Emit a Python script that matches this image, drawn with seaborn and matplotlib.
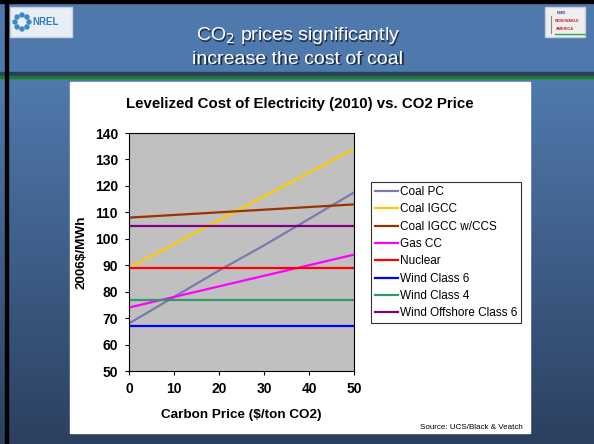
import matplotlib.pyplot as plt
import numpy as np
import pandas as pd
import seaborn as sns
from matplotlib.patches import Circle, Rectangle

carbon_price = [0, 10, 20, 30, 40, 50]
coal_pc = [68, 78, 88, 97.5, 107.5, 117.5]
coal_igcc = [89, 98, 107, 116, 125, 134]
coal_igcc_ccs = [108, 109, 110, 111, 112, 113]
gas_cc = [74, 78, 82, 86, 90, 94]
nuclear = [89, 89, 89, 89, 89, 89]
wind_class6 = [67, 67, 67, 67, 67, 67]
wind_class4 = [77, 77, 77, 77, 77, 77]
wind_offshore6 = [105, 105, 105, 105, 105, 105]

series = {
    "Coal PC": coal_pc,
    "Coal IGCC": coal_igcc,
    "Coal IGCC w/CCS": coal_igcc_ccs,
    "Gas CC": gas_cc,
    "Nuclear": nuclear,
    "Wind Class 6": wind_class6,
    "Wind Class 4": wind_class4,
    "Wind Offshore Class 6": wind_offshore6,
}
colors = ["#7a7ab0", "#ffcc00", "#993300", "#ff00ff",
          "#ff0000", "#0000ff", "#339966", "#800080"]

df = pd.concat(
    [pd.DataFrame({"price": carbon_price, "cost": v, "tech": k}) for k, v in series.items()]
)

plt.rcParams["font.family"] = ["Liberation Sans", "DejaVu Sans"]

fig = plt.figure(figsize=(5.94, 4.44), dpi=100)

# slide background
bg = fig.add_axes([0, 0, 1, 1], zorder=-10)
grad = np.linspace(0, 1, 256).reshape(-1, 1)
top = np.array([0x50, 0x7a, 0xae]) / 255
bot = np.array([0x2c, 0x40, 0x60]) / 255
img = top + (bot - top) * grad[..., None]
bg.imshow(img, extent=[0, 594, 444, 78], aspect="auto")
bg.set_xlim(0, 594)
bg.set_ylim(444, 0)
bg.axis("off")
bg.add_patch(Rectangle((0, 0), 594, 72, color="#4f79ad"))
bg.add_patch(Rectangle((0, 72), 594, 4, color="#2a3f5a"))
bg.add_patch(Rectangle((0, 76), 594, 2, color="#1f7a2a"))
bg.add_patch(Rectangle((5, 0), 2.5, 444, color="black"))
bg.add_patch(Rectangle((0, 0), 594, 3, color="black"))

# logos (rough)
bg.add_patch(Rectangle((10, 7), 62, 30, facecolor="#e8eef5", edgecolor="#c8d0da"))
for a in np.linspace(0, 2 * np.pi, 8, endpoint=False):
    bg.add_patch(Circle((22 + 7 * np.cos(a), 22 + 7 * np.sin(a)), 2, color="#3a88c8"))
bg.text(32, 22, "NREL", color="#3a78b8", fontsize=7, fontweight="bold", va="center")
bg.add_patch(Rectangle((545, 7), 40, 30, facecolor="#eeeeee", edgecolor="#c8d0da"))
bg.plot([551, 551], [16, 33], color="#888888", lw=0.8)
bg.plot([555, 585], [34, 34], color="#33aa44", lw=1)
bg.text(557, 13, "NMD", color="#3344aa", fontsize=3, fontweight="bold", va="center")
bg.text(555, 21, "RENEWABLE", color="#cc2222", fontsize=2.8, fontweight="bold", va="center")
bg.text(556, 29, "AMERICA", color="#cc2222", fontsize=2.8, fontweight="bold", va="center")

bg.add_patch(Rectangle((70, 82), 460, 351, color="white"))

for dx, col in [(1.2, "#1c2c44"), (0, "white")]:
    bg.text(298 + dx, 36 + dx, "CO$_2$ prices significantly", color=col,
            fontsize=14, ha="center", va="center")
    bg.text(298 + dx, 59 + dx, "increase the cost of coal", color=col,
            fontsize=14, ha="center", va="center")
bg.text(523, 427, "Source: UCS/Black & Veatch", fontsize=5.8, ha="right", va="center")

ax = fig.add_axes([129 / 594, 1 - 371 / 444, 225 / 594, 238 / 444])
ax.set_facecolor("#c0c0c0")
sns.lineplot(data=df, x="price", y="cost", hue="tech", palette=colors,
             linewidth=1.6, ax=ax, legend=True)

ax.set_xlim(0, 50)
ax.set_ylim(50, 140)
ax.set_xticks(range(0, 51, 10))
ax.set_yticks(range(50, 141, 10))
for s in ax.spines.values():
    s.set_color("black")
    s.set_linewidth(0.8)
ax.tick_params(direction="out", length=3, width=0.8, labelsize=10, pad=5)
for lab in ax.get_xticklabels() + ax.get_yticklabels():
    lab.set_fontweight("bold")
ax.set_xlabel("Carbon Price ($/ton CO2)", fontsize=9.7, fontweight="bold", labelpad=9)
ax.set_ylabel("2006$/MWh", fontsize=9.7, fontweight="bold", labelpad=5)
ax.set_title("Levelized Cost of Electricity (2010) vs. CO2 Price",
             fontsize=10.8, fontweight="bold", x=0.76, y=1.0, pad=18)

leg = ax.legend(loc="upper left", bbox_to_anchor=(371 / 594, 1 - 182 / 444),
                bbox_transform=fig.transFigure, frameon=True, fancybox=False,
                fontsize=8.5, handlelength=1.9, handletextpad=0.2,
                labelspacing=0.45, borderpad=0.35, borderaxespad=0)
leg.get_frame().set_edgecolor("black")
leg.get_frame().set_linewidth(0.8)
leg.set_title(None)

fig.savefig("out.png", dpi=100)
